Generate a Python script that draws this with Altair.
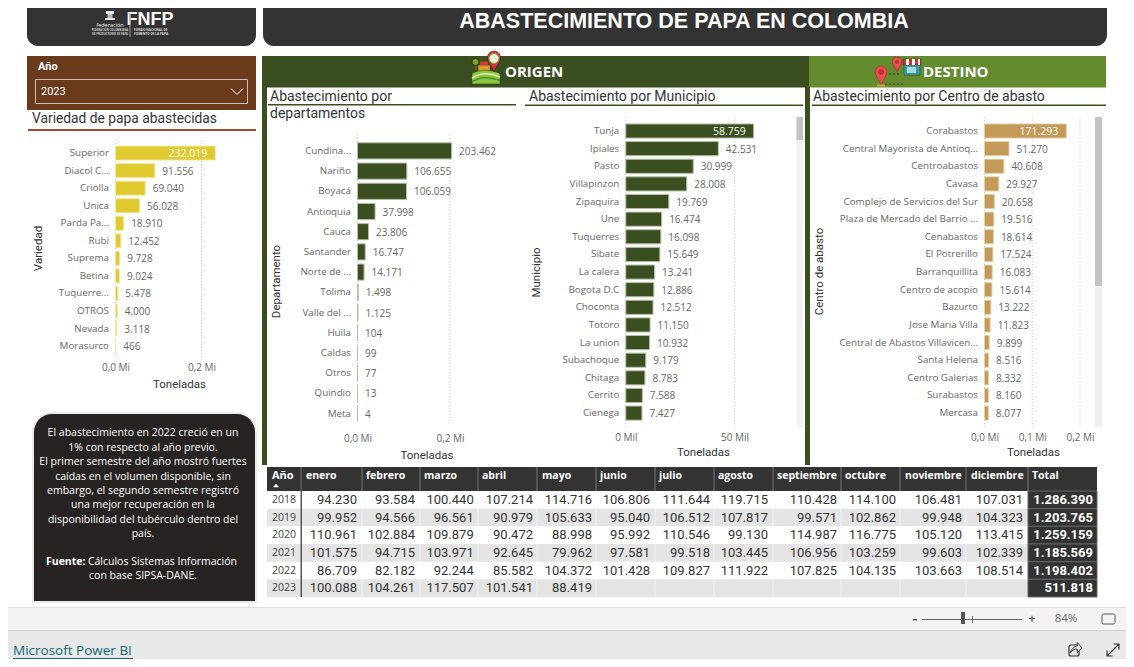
import altair as alt

W, H = 1118, 651
LBL = "Open Sans"
DIN = "Roboto"

# ---------- data ----------
var_cats = ["Superior", "Diacol C...", "Criolla", "Unica", "Parda Pa...", "Rubi", "Suprema", "Betina", "Tuquerre...", "OTROS", "Nevada", "Morasurco"]
var_vals = [232019, 91556, 69040, 56028, 18910, 12452, 9728, 9024, 5478, 4000, 3118, 466]
dep_cats = ["Cundina...", "Nariño", "Boyacá", "Antioquia", "Cauca", "Santander", "Norte de ...", "Tolima", "Valle del ...", "Huila", "Caldas", "Otros", "Quindio", "Meta"]
dep_vals = [203462, 106655, 106059, 37998, 23806, 16747, 14171, 1498, 1125, 104, 99, 77, 13, 4]
mun_cats = ["Tunja", "Ipiales", "Pasto", "Villapinzon", "Zipaquira", "Une", "Tuquerres", "Sibate", "La calera", "Bogota D.C", "Choconta", "Totoro", "La union", "Subachoque", "Chitaga", "Cerrito", "Cienega"]
mun_vals = [58759, 42531, 30999, 28008, 19769, 16474, 16098, 15649, 13241, 12886, 12512, 11150, 10932, 9179, 8783, 7588, 7427]
cen_cats = ["Corabastos", "Central Mayorista de Antioq...", "Centroabastos", "Cavasa", "Complejo de Servicios del Sur", "Plaza de Mercado del Barrio ...", "Cenabastos", "El Potrerillo", "Barranquillita", "Centro de acopio", "Bazurto", "Jose Maria Villa", "Central de Abastos Villavicen...", "Santa Helena", "Centro Galerias", "Surabastos", "Mercasa"]
cen_vals = [171293, 51270, 40608, 29927, 20658, 19516, 18614, 17524, 16083, 15614, 13222, 11823, 9899, 8516, 8332, 8160, 8077]

years = ["2018", "2019", "2020", "2021", "2022", "2023"]
months = ["enero", "febrero", "marzo", "abril", "mayo", "junio", "julio", "agosto", "septiembre", "octubre", "noviembre", "diciembre"]
y2018 = [94230, 93584, 100440, 107214, 114716, 106806, 111644, 119715, 110428, 114100, 106481, 107031]
y2019 = [99952, 94566, 96561, 90979, 105633, 95040, 106512, 107817, 99571, 102862, 99948, 104323]
y2020 = [110961, 102884, 109879, 90472, 88998, 95992, 110546, 99130, 114987, 116775, 105120, 113415]
y2021 = [101575, 94715, 103971, 92645, 79962, 97581, 99518, 103445, 106956, 103259, 99603, 102339]
y2022 = [86709, 82182, 92244, 85582, 104372, 101428, 109827, 111922, 107825, 104135, 103663, 108514]
y2023 = [100088, 104261, 117507, 101541, 88419]
totals = [1286390, 1203765, 1259159, 1185569, 1198402, 511818]
table_rows = [y2018, y2019, y2020, y2021, y2022, y2023]

note_lines = ["El abastecimiento en 2022 creció en un", "1% con respecto al año previo.", "El primer semestre del año mostró fuertes", "caídas en el volumen disponible, sin", "embargo, el segundo semestre registró", "una mejor recuperación en la", "disponibilidad del tubérculo dentro del", "país."]


def dots(v):
    return f"{v:,}".replace(",", ".")


ONE = alt.Data(values=[{"a": 1}])
layers = []


def rect(x0, y0, x1, y1, color, **kw):
    layers.append(alt.Chart(ONE).mark_rect(color=color, **kw).encode(
        x=alt.value(x0 - 8), x2=alt.value(x1 - 8), y=alt.value(y0 - 8), y2=alt.value(y1 - 8)))


def text(s, x, y, size=11, color="#333333", font=LBL, align="left", weight="normal", **kw):
    layers.append(alt.Chart(ONE).mark_text(text=s, fontSize=size, color=color, font=font, align=align,
                                           baseline="middle", fontWeight=weight, **kw).encode(
        x=alt.value(x - 8), y=alt.value(y - 8)))


def shape(path, x, y, ext, fill="transparent", stroke="transparent", sw=1):
    layers.append(alt.Chart(ONE).mark_point(shape=path, size=(2 * ext) ** 2, filled=False, fill=fill, fillOpacity=1,
                                            opacity=1, stroke=stroke, strokeWidth=sw).encode(
        x=alt.value(x - 8), y=alt.value(y - 8)))


PIN = "M0,1 C-0.2,0.4 -0.62,0.1 -0.62,-0.38 A0.62,0.62 0 1 1 0.62,-0.38 C0.62,0.1 0.2,0.4 0,1 Z"
CIRC = "M-1,0 A1,1 0 1 1 1,0 A1,1 0 1 1 -1,0 Z"
HILL = "M-1,0.5 L-1,-0.25 C-0.5,-0.55 0.4,-0.55 1,-0.25 L1,0.5 Z"
FURROW_A = "M-1,0.1 C-0.4,-0.35 0.3,-0.3 1,0"
FURROW_B = "M-1,0.35 C-0.4,-0.05 0.3,0 1,0.25"


def panel(cats, vals, x0, xd, dmax, ticks, top, step, grid_top, grid_bot, color, stroke, ytitle, ytx, yty, xtx, label_y,
          title_y, inside=(), unit="Mi"):
    sx = alt.Scale(domain=[0, dmax], range=[x0 - 8, xd - 8], nice=False)
    sy = alt.Scale(domain=cats, range=[top - 8, top - 8 + len(cats) * step], paddingInner=0.2, paddingOuter=0.1)
    if unit == "Mi":
        lab = "replace(format(datum.value/1000000,'.1f'),'.',',')+' Mi'"
    else:
        lab = "format(datum.value/1000,'d')+' Mil'"
    rows = [{"c": c, "v": v, "t": dots(v)} for c, v in zip(cats, vals)]
    layers.append(alt.Chart(alt.Data(values=[{"t": t} for t in ticks])).mark_rule(
        color="#cfcfcf", strokeDash=[1, 2], strokeWidth=1).encode(
        x=alt.X("t:Q", scale=sx, axis=None), y=alt.value(grid_top - 8), y2=alt.value(grid_bot - 8)))
    layers.append(alt.Chart(alt.Data(values=rows)).mark_bar(color=color, stroke=stroke, strokeWidth=1).encode(
        x=alt.X("v:Q", scale=sx, stack=None, axis=alt.Axis(
            orient="bottom", offset=grid_bot - 8 - H, values=ticks, labelExpr=lab, grid=False, domain=False, ticks=False,
            labelFont=LBL, labelFontSize=10, labelColor="#666666", labelPadding=label_y - grid_bot - 4.5,
            labelFlush=False, labelOverlap=False,
            title="Toneladas", titleFont=DIN, titleFontSize=11.5, titleFontWeight="normal", titleColor="#333333",
            titleX=xtx - 8, titleY=title_y - grid_bot, titleBaseline="middle", titleAnchor="middle", titleAlign="center")),
        y=alt.Y("c:N", scale=sy, sort=None, axis=alt.Axis(
            orient="left", offset=-(x0 - 8), domain=False, ticks=False, grid=False, labelFont=LBL, labelFontSize=9.8,
            labelColor="#666666", labelPadding=7, labelLimit=260, labelOverlap=False,
            title=ytitle, titleFont=DIN, titleFontSize=11.5, titleFontWeight="normal", titleColor="#333333",
            titleX=ytx - x0, titleY=yty - 8, titleAngle=270, titleAlign="center", titleBaseline="middle"))))
    outs = [r for r in rows if r["c"] not in inside]
    ins = [r for r in rows if r["c"] in inside]
    layers.append(alt.Chart(alt.Data(values=outs)).mark_text(
        align="left", baseline="middle", dx=7.5, dy=1, font=LBL, fontSize=10, color="#666666").encode(
        x=alt.X("v:Q", scale=sx, axis=None), y=alt.Y("c:N", scale=sy, axis=None), text="t:N"))
    if ins:
        layers.append(alt.Chart(alt.Data(values=ins)).mark_text(
            align="right", baseline="middle", dx=-8, dy=1, font=LBL, fontSize=10.5, color="#ffffff").encode(
            x=alt.X("v:Q", scale=sx, axis=None), y=alt.Y("c:N", scale=sy, axis=None), text="t:N"))


# ---------- page chrome ----------
DARK = "#333333"
rect(27, -12, 256, 46, DARK, cornerRadius=11)
rect(263, -12, 1107, 46, DARK, cornerRadius=11)
text("ABASTECIMIENTO DE PAPA EN COLOMBIA", 684, 22, size=21.5, color="#ffffff", font="Liberation Sans", align="center", weight="bold")

# logo
text("FNFP", 150, 20, size=18, color="#ffffff", font="Liberation Sans", align="center", weight="bold")
text("FONDO NACIONAL DE", 134, 29.5, size=3.1, color="#dddddd", weight="bold")
text("FOMENTO DE LA PAPA", 134, 33.5, size=3.1, color="#dddddd", weight="bold")
rect(129.5, 13, 130.5, 37, "#999999")
rect(106, 11, 114, 14, "#e8e8e8")
rect(107.5, 14, 112.5, 18, "#bbbbbb")
rect(105, 18, 115, 20, "#e8e8e8")
text("federación", 110, 24.5, size=5.5, color="#eeeeee", align="center")
text("FEDERACIÓN COLOMBIANA", 110, 30, size=2.7, color="#cccccc", align="center", weight="bold")
text("DE PRODUCTORES DE PAPA", 110, 34, size=2.7, color="#cccccc", align="center", weight="bold")

# year filter
rect(27, 56, 256, 110, "#6B3A1B")
text("Año", 38, 67, size=11, color="#ffffff", font=DIN, weight="bold")
rect(35.5, 79.5, 247.5, 103.5, "transparent", stroke="#c9c0b8", strokeWidth=1)
text("2023", 41, 91.5, size=11, color="#ffffff", font=DIN)
shape("M-1,-0.5 L0,0.5 L1,-0.5", 237, 91.5, 6, stroke="#ffffff", sw=1)
text("Variedad de papa abastecidas", 32, 118.5, size=13.8, color="#333333", font=DIN)
rect(28, 129, 256, 131, "#A0482A")

# frames
GREEN = "#3A4E20"
LIME = "#648B2E"
rect(262, 56, 809, 87.5, GREEN)
rect(809, 56, 1106, 87.5, LIME)
rect(262, 87, 267, 465, GREEN)
rect(805, 87, 810, 465, GREEN)

text("ORIGEN", 505, 72, size=15, color="#ffffff", weight="bold")
text("DESTINO", 923, 72, size=15, color="#ffffff", weight="bold")

# origin icon
rect(475, 58, 477, 70, "#7a5a20")
shape(CIRC, 475.5, 62, 3.5, fill="#7d9c2e", stroke="#2b3a12")
rect(478, 65, 490, 72, "#d9a030", stroke="#2b3a12", strokeWidth=0.5)
rect(480, 61.5, 488, 65.5, "#c84030")
shape(HILL, 486, 77, 14, fill="#8cc63f", stroke="#2b3a12", sw=0.5)
shape(FURROW_A, 486, 77, 14, stroke="#dcecb0", sw=1.5)
shape(FURROW_B, 486, 77, 14, stroke="#4f8f2f", sw=1.5)
shape(PIN, 494, 61.5, 10.5, fill="#d8323c", stroke="#3a1a10", sw=0.5)
shape(CIRC, 494, 58.5, 5, fill="#e8f0d8", stroke="#7d9c2e", sw=1)

# destination icon
layers.append(alt.Chart(ONE).mark_rule(color="#2a3518", strokeDash=[2, 2], strokeWidth=1).encode(
    x=alt.value(885 - 8), x2=alt.value(903 - 8), y=alt.value(84 - 8)))
layers.append(alt.Chart(ONE).mark_rule(color="#2a3518", strokeDash=[2, 2], strokeWidth=1).encode(
    x=alt.value(889 - 8), x2=alt.value(900 - 8), y=alt.value(74 - 8)))
shape(PIN, 881, 75.5, 9.5, fill="#ea4e4e", stroke="#7a2a20", sw=0.5)
shape(CIRC, 881, 72, 2.8, fill="#c03030")
rect(877, 84.5, 885, 86.5, "#e0a030")
shape(PIN, 897, 64.5, 7.5, fill="#ea4e4e", stroke="#7a2a20", sw=0.5)
shape(CIRC, 897, 62, 2, fill="#c03030")
rect(904, 63, 920, 75, "#3a9aa8", stroke="#2a3518", strokeWidth=0.5)
rect(907, 67, 916, 73, "#9fdde0")
rect(903, 59, 921, 65, "#d82d2d", stroke="#2a3518", strokeWidth=0.5)
rect(906, 59, 909, 65, "#ffffff")
rect(912, 59, 915, 65, "#ffffff")
rect(918, 59, 920, 65, "#ffffff")

# sub-panel titles
text("Abastecimiento por", 270, 96.5, size=14, font=DIN)
text("departamentos", 270, 113.5, size=14, font=DIN)
rect(268, 104, 516, 105.5, GREEN)
text("Abastecimiento por Municipio", 529, 96.5, size=14, font=DIN)
rect(525, 104.5, 803, 106, GREEN)
text("Abastecimiento por Centro de abasto", 813, 96.5, size=14, font=DIN)
rect(812, 104.5, 1106, 106, GREEN)

# scrollbars
rect(796.5, 117, 803, 427, "#f1f1f1")
rect(796.5, 117, 803, 140, "#c4c4c4")
rect(1095, 117, 1102, 427, "#f1f1f1")
rect(1095, 117, 1102, 286, "#c4c4c4")

# ---------- bar panels ----------
panel(var_cats, var_vals, 115.5, 201.5, 200000, [0, 200000], 144.3, 17.55, 140, 358, "#E0CA30", "#F3E9A0",
      "Variedad", 38, 248, 179, 367, 384, inside=("Superior",))
panel(dep_cats, dep_vals, 357.5, 450, 200000, [0, 200000], 140.8, 20.2, 135, 422, GREEN, "#B5BFA6",
      "Departamento", 276, 281, 426.5, 438, 455)
panel(mun_cats, mun_vals, 625.8, 734.6, 50000, [0, 50000], 122.2, 17.63, 117, 427, GREEN, "#B5BFA6",
      "Municipio", 536, 272, 703, 436.5, 452.5, inside=("Tunja",), unit="Mil")
panel(cen_cats, cen_vals, 984.5, 1080, 200000, [0, 100000, 200000], 122.2, 17.63, 117, 427, "#C49A58", "#E4CFA8",
      "Centro de abasto", 819, 271, 1033, 436.5, 452.5, inside=("Corabastos",))

# ---------- note box ----------
rect(32, 412, 257, 603, "#000000", opacity=0.08, cornerRadiusTopLeft=20, cornerRadiusTopRight=20)
rect(34, 414, 255, 601, "#272322", cornerRadiusTopLeft=18, cornerRadiusTopRight=18)
note_y = [433, 447.5, 462, 476.5, 490.5, 505, 519.5, 533.5]
for line, ny in zip(note_lines, note_y):
    text(line, 143, ny, size=10.5, color="#ffffff", align="center")
text("Fuente:", 46, 562, size=10.5, color="#ffffff", weight="bold")
text("Cálculos Sistemas Información", 237, 562, size=10.5, color="#ffffff", align="right")
text("con base SIPSA-DANE.", 143, 576, size=10.5, color="#ffffff", align="center")

# ---------- table ----------
col_left = [301, 362, 420, 478, 537, 596, 655, 714, 773, 841, 900, 966]
col_right = [357, 415, 473.7, 533, 592, 650, 710, 768, 837, 896, 962, 1023]
head_x = [306, 366, 424, 482, 542, 600, 659, 718, 777, 845, 905, 971]
ty = alt.Scale(domain=years, range=[491 - 8, 597 - 8], paddingInner=0, paddingOuter=0)

rect(267, 467, 1097, 491, DARK)
layers.append(alt.Chart(alt.Data(values=[{"y": y} for y in years[1::2]])).mark_rect(color="#E4E4E4").encode(
    x=alt.value(267 - 8), x2=alt.value(1028 - 8), y=alt.Y("y:N", scale=ty, axis=None)))
for cx in col_left[1:]:
    rect(cx - 0.5, 491, cx + 0.5, 597, "#ffffff", opacity=0.6)
    rect(cx - 0.5, 467, cx + 0.5, 491, "#777777")
rect(300.5, 467, 301.5, 491, "#777777")
rect(1027.5, 467, 1028.5, 491, "#777777")
rect(300.5, 491, 302, 597, "#555555")
layers.append(alt.Chart(alt.Data(values=[{"y": y} for y in years])).mark_rect(
    fill=DARK, stroke="#666666", strokeWidth=1).encode(
    x=alt.value(1028 - 8), x2=alt.value(1097 - 8), y=alt.Y("y:N", scale=ty, axis=None)))

text("Año", 272, 476, size=11, color="#ffffff", weight="bold")
shape("M-1,0.6 L0,-0.6 L1,0.6 Z", 276, 485.5, 3, fill="#ffffff")
for m, hx in zip(months, head_x):
    text(m, hx, 476, size=10.5, color="#ffffff", weight="bold")
text("Total", 1032, 476, size=10.5, color="#ffffff", weight="bold")

layers.append(alt.Chart(alt.Data(values=[{"y": y} for y in years])).mark_text(
    align="left", baseline="middle", font=LBL, fontSize=10.5, color="#444444").encode(
    x=alt.value(272 - 8), y=alt.Y("y:N", scale=ty, axis=None), text="y:N"))
for i, m in enumerate(months):
    cells = [{"y": y, "t": dots(row[i])} for y, row in zip(years, table_rows) if i < len(row)]
    layers.append(alt.Chart(alt.Data(values=cells)).mark_text(
        align="right", baseline="middle", font=DIN, fontSize=13, color="#333333").encode(
        x=alt.value(col_right[i] - 8), y=alt.Y("y:N", scale=ty, axis=None), text="t:N"))
layers.append(alt.Chart(alt.Data(values=[{"y": y, "t": dots(t)} for y, t in zip(years, totals)])).mark_text(
    align="right", baseline="middle", font=DIN, fontSize=13, fontWeight="bold", color="#ffffff").encode(
    x=alt.value(1093 - 8), y=alt.Y("y:N", scale=ty, axis=None), text="t:N"))

# ---------- footer ----------
rect(0, 607, 1134, 631, "#F3F3F3")
rect(0, 607, 1134, 608, "#DEDEDE")
rect(0, 631, 1134, 667, "#E8E8E8")
rect(0, 630, 1134, 631, "#CFCFCF")
text("Microsoft Power BI", 13, 651, size=13.5, color="#0E6B70")
rect(13, 658, 133, 659, "#0E6B70")
text("84%", 1066, 619, size=11.5, color="#666666", align="center")
text("+", 1032, 619, size=13, color="#444444", align="center")
rect(913, 619, 917, 620.5, "#555555")
rect(922, 619, 1022, 620, "#666666")
rect(961, 612, 965, 624, "#555555")
rect(972, 616, 973, 623, "#666666")
rect(1102, 614, 1115, 624, "transparent", stroke="#555555", strokeWidth=1, cornerRadius=1.5)
rect(1069, 645, 1079, 656, "transparent", stroke="#333333", strokeWidth=1.2, cornerRadius=2)
shape("M-1,0.7 C-0.6,-0.2 0,-0.4 0.2,-0.4 L0.2,-1 L1,-0.1 L0.2,0.7 L0.2,0.1 C-0.2,0.1 -0.7,0.3 -1,0.7 Z", 1076, 648.5, 6, fill="#E8E8E8", stroke="#333333", sw=1)
shape("M-1,1 L1,-1 M0.1,-1 L1,-1 L1,-0.1 M-1,0.1 L-1,1 L-0.1,1", 1113, 650, 6, stroke="#333333", sw=1.2)

chart = alt.layer(*layers).resolve_scale(x="independent", y="independent").properties(
    width=W, height=H, padding=0, background="#ffffff", autosize=alt.AutoSizeParams(type="none")
).configure_view(stroke=None)

chart.save("out.html", embed_options={"renderer": "svg", "actions": False})
